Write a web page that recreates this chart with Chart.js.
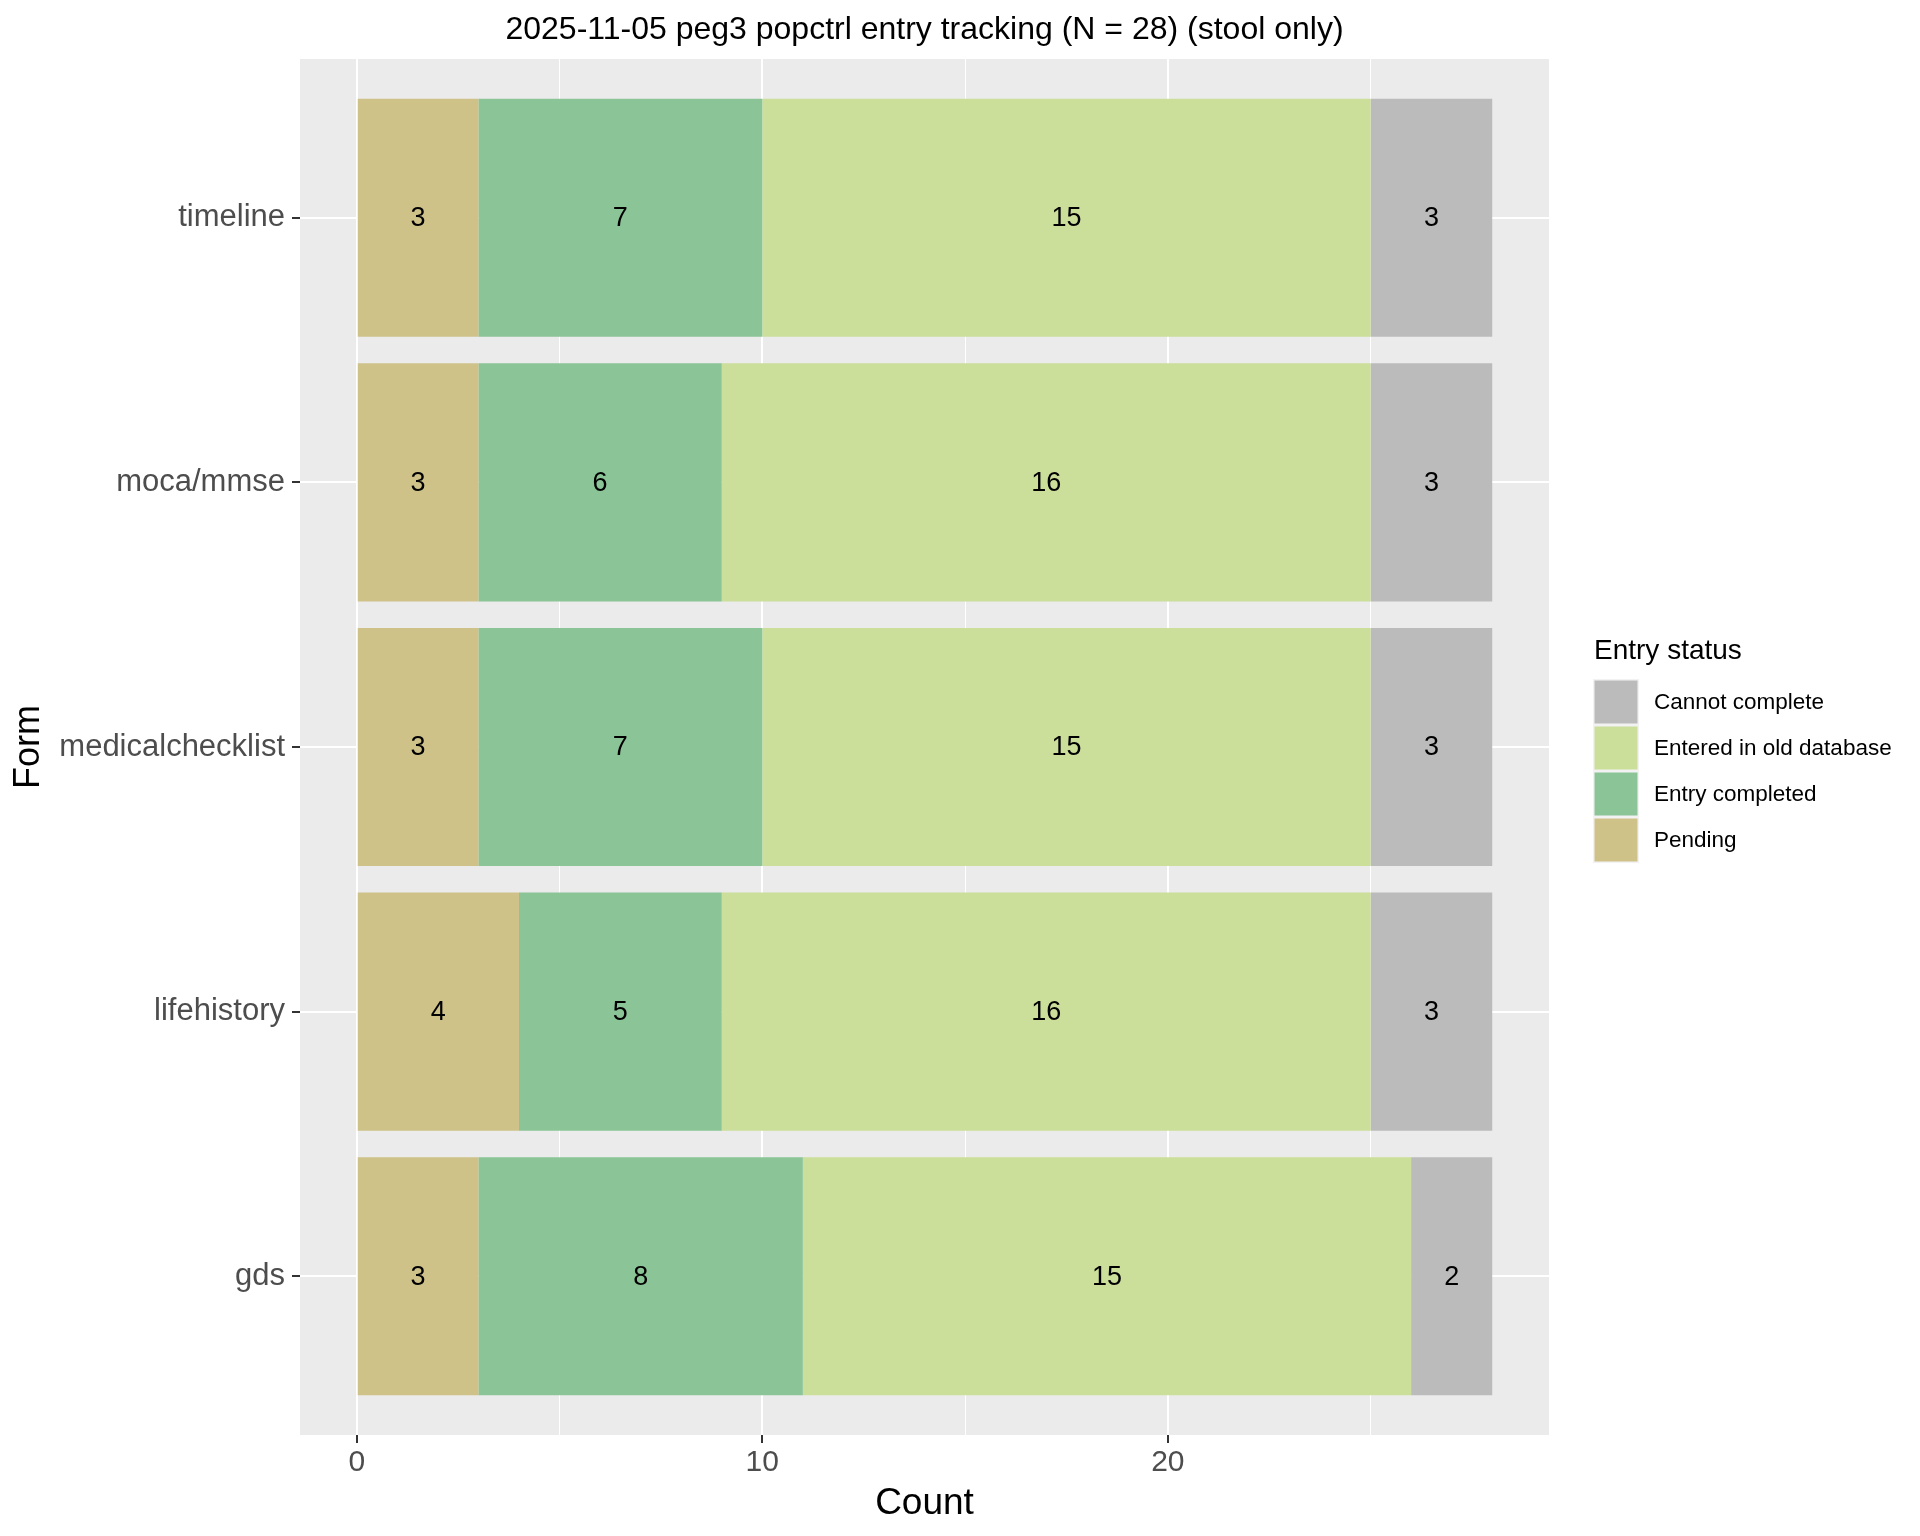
<!DOCTYPE html>
<html>
<head>
<meta charset="utf-8">
<script src="https://cdn.jsdelivr.net/npm/chart.js@4.4.1/dist/chart.umd.min.js"></script>
<style>
  html, body { margin: 0; padding: 0; background: #ffffff; }
  #wrap { width: 1920px; height: 1536px; }
</style>
</head>
<body>
<div id="wrap"><canvas id="chart"></canvas></div>
<script>
// Forms, top to bottom as drawn
const forms = ['timeline', 'moca/mmse', 'medicalchecklist', 'lifehistory', 'gds'];

// Counts per entry status, same order as forms
const pending = [3, 3, 3, 4, 3];
const entryCompleted = [7, 6, 7, 5, 8];
const enteredOld = [15, 16, 15, 16, 15];
const cannotComplete = [3, 3, 3, 3, 2];

// Stack order left -> right
const statusLabels = ['Pending', 'Entry completed', 'Entered in old database', 'Cannot complete'];
const statusColors = ['#CFC289', '#8BC497', '#CBDE9A', '#BBBBBB'];

const xTickLabels = [0, 10, 20];
const chartTitle = '2025-11-05 peg3 popctrl entry tracking (N = 28) (stool only)';
const xTitle = 'Count';
const yTitle = 'Form';
const legendTitle = 'Entry status';

const FONT = "'Liberation Sans', Arial, sans-serif";
Chart.defaults.font.family = FONT;

// ggplot-like positions: first level at the bottom
const yPos = i => forms.length - i;
const toPoints = arr => arr.map((v, i) => ({ x: v, y: yPos(i) }));

const seriesValues = [pending, entryCompleted, enteredOld, cannotComplete];
const totals = forms.map((f, i) => seriesValues.reduce((s, arr) => s + arr[i], 0));
const maxTotal = Math.max(...totals);
const xPad = maxTotal * 0.05;

// Panel background, bar labels, titles and legend
const ggPlugin = {
    id: 'ggPlugin',
    beforeDraw(chart) {
        const { ctx, chartArea: a } = chart;
        ctx.save();
        ctx.fillStyle = '#EBEBEB';
        ctx.fillRect(a.left, a.top, a.right - a.left, a.bottom - a.top);
        ctx.restore();
    },
    afterDatasetsDraw(chart) {
        const ctx = chart.ctx;
        ctx.save();
        ctx.font = `27px ${FONT}`;
        ctx.fillStyle = '#000000';
        ctx.textAlign = 'center';
        ctx.textBaseline = 'middle';
        chart.data.datasets.forEach((ds, di) => {
            const meta = chart.getDatasetMeta(di);
            meta.data.forEach((bar, i) => {
                const { x, y, base } = bar.getProps(['x', 'y', 'base'], true);
                ctx.fillText(String(ds.data[i].x), (x + base) / 2, y + 1);
            });
        });
        ctx.restore();
    },
    afterDraw(chart) {
        const { ctx, chartArea: a } = chart;
        const cx = (a.left + a.right) / 2;
        const cy = (a.top + a.bottom) / 2;
        ctx.save();
        ctx.fillStyle = '#000000';

        // Title
        ctx.font = `32px ${FONT}`;
        ctx.textAlign = 'center';
        ctx.textBaseline = 'alphabetic';
        ctx.fillText(chartTitle, cx, 39);

        // Axis titles
        ctx.font = `37px ${FONT}`;
        ctx.fillText(xTitle, cx, 1514);
        ctx.save();
        ctx.translate(29, cy);
        ctx.rotate(-Math.PI / 2);
        ctx.font = `36px ${FONT}`;
        ctx.textBaseline = 'middle';
        ctx.fillText(yTitle, 0, 0);
        ctx.restore();

        // Legend (reverse stack order, like ggplot)
        const lx = a.right + 45;
        ctx.textAlign = 'left';
        ctx.font = `28px ${FONT}`;
        ctx.fillText(legendTitle, lx, 659);
        const ds = chart.data.datasets.slice().reverse();
        ctx.font = `22.5px ${FONT}`;
        ctx.textBaseline = 'middle';
        ds.forEach((d, k) => {
            const top = 679 + k * 46;
            ctx.fillStyle = '#F2F2F2';
            ctx.fillRect(lx - 1, top, 46, 46);
            ctx.fillStyle = d.backgroundColor;
            ctx.fillRect(lx + 0.5, top + 1.5, 43, 43);
            ctx.fillStyle = '#000000';
            ctx.fillText(d.label, lx + 60, top + 24);
        });
        ctx.restore();
    }
};

const datasets = seriesValues.map((arr, k) => ({
    label: statusLabels[k],
    data: toPoints(arr),
    backgroundColor: statusColors[k],
    borderWidth: 0,
    barPercentage: 0.9,
    categoryPercentage: 1.0
}));

new Chart(document.getElementById('chart').getContext('2d'), {
    type: 'bar',
    data: { datasets },
    plugins: [ggPlugin],
    options: {
        indexAxis: 'y',
        responsive: true,
        maintainAspectRatio: false,
        devicePixelRatio: 1,
        animation: false,
        layout: { padding: { top: 59, right: 371, left: 0, bottom: 0 } },
        plugins: {
            legend: { display: false },
            title: { display: false },
            tooltip: { enabled: false }
        },
        scales: {
            x: {
                type: 'linear',
                stacked: true,
                offset: false,
                min: -xPad,
                max: maxTotal + xPad,
                ticks: {
                    stepSize: 5,
                    includeBounds: false,
                    autoSkip: false,
                    maxRotation: 0,
                    padding: 2,
                    color: '#4D4D4D',
                    font: { size: 30 },
                    callback: v => xTickLabels.includes(v) ? String(v) : ''
                },
                grid: {
                    offset: false,
                    color: '#FFFFFF',
                    lineWidth: c => (c.tick && xTickLabels.includes(c.tick.value)) ? 2 : 1,
                    tickLength: 8,
                    tickWidth: 2,
                    tickColor: c => (c.tick && xTickLabels.includes(c.tick.value)) ? '#333333' : 'rgba(0,0,0,0)'
                },
                border: { display: false },
                afterFit: s => { s.height = 101; }
            },
            y: {
                type: 'linear',
                stacked: true,
                offset: false,
                min: 0.4,
                max: forms.length + 0.6,
                ticks: {
                    stepSize: 1,
                    includeBounds: false,
                    autoSkip: false,
                    padding: 7,
                    color: '#4D4D4D',
                    font: { size: 31 },
                    callback: v => forms[forms.length - Math.round(v)]
                },
                grid: {
                    offset: false,
                    color: '#FFFFFF',
                    lineWidth: 2,
                    tickLength: 8,
                    tickWidth: 2,
                    tickColor: '#333333'
                },
                border: { display: false },
                afterFit: s => { s.width = 300; }
            }
        }
    }
});
</script>
</body>
</html>
